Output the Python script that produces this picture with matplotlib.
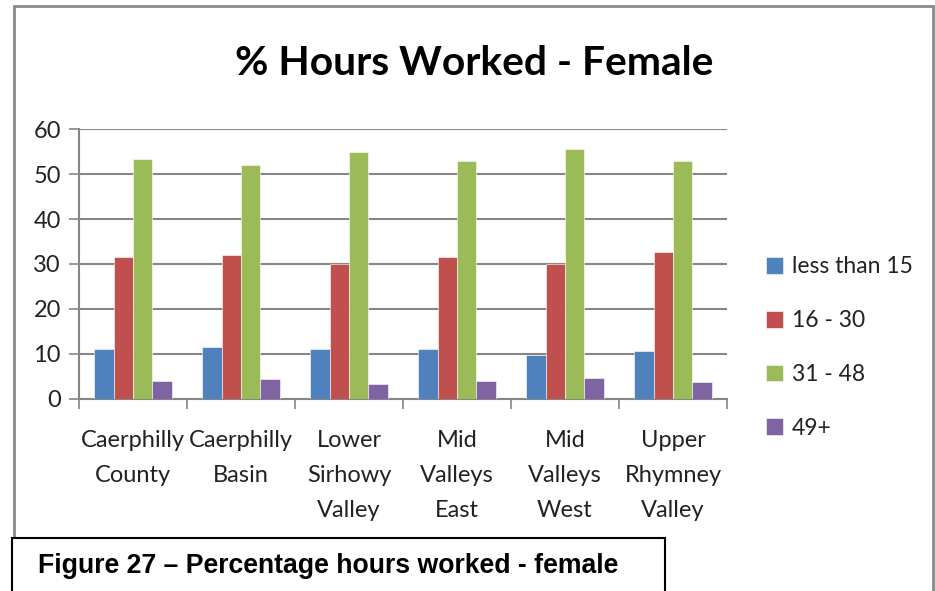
import numpy as np
import matplotlib.pyplot as plt
from matplotlib.patches import Rectangle

# --- data ---
areas = ["Caerphilly\nCounty", "Caerphilly\nBasin", "Lower\nSirhowy\nValley",
         "Mid\nValleys\nEast", "Mid\nValleys\nWest", "Upper\nRhymney\nValley"]
series_names = ["less than 15", "16 - 30", "31 - 48", "49+"]
less_than_15 = [11.0, 11.5, 11.2, 11.2, 9.8, 10.7]
h16_30 = [31.5, 32.1, 30.0, 31.5, 30.0, 32.7]
h31_48 = [53.3, 52.0, 54.8, 53.0, 55.5, 53.0]
h49_plus = [4.0, 4.4, 3.4, 4.0, 4.7, 3.8]
colors = ["#4F81BD", "#C0504D", "#9BBB59", "#8064A2"]

font = ["Lato", "DejaVu Sans"]
grey = "#868686"

fig = plt.figure(figsize=(9.35, 5.91), dpi=100)
ax = fig.add_axes([0.0845, 0.3249, 0.693, 0.4568])

x = np.arange(len(areas))
w = 0.179
all_series = [less_than_15, h16_30, h31_48, h49_plus]
for i, vals in enumerate(all_series):
    ax.bar(x + (i - 1.5) * w, vals, width=w, color=colors[i],
           edgecolor="white", linewidth=0.4, label=series_names[i], zorder=3)

ax.set_xlim(-0.5, len(areas) - 0.5)
ax.set_ylim(0, 60)
ax.set_yticks(range(0, 61, 10))
ax.yaxis.grid(True, color=grey, linewidth=1.5, zorder=0)
ax.set_axisbelow(True)

for s in ["top", "right"]:
    ax.spines[s].set_visible(False)
for s in ["left", "bottom"]:
    ax.spines[s].set_color(grey)
    ax.spines[s].set_linewidth(1.5)

ax.tick_params(axis="y", length=7, width=1.2, color=grey, pad=6, labelsize=17)
ax.set_xticks(np.arange(-0.5, len(areas), 1.0))
ax.set_xticklabels([])
ax.tick_params(axis="x", which="major", length=7, width=1.2, color=grey)
ax.set_xticks(x, minor=True)
ax.set_xticklabels(areas, minor=True)
ax.tick_params(axis="x", which="minor", length=0, pad=22, labelsize=17)
for lab in ax.get_xticklabels(minor=True) + ax.get_yticklabels():
    lab.set_family(font)
    lab.set_color("#222222")
for lab in ax.get_xticklabels(minor=True):
    lab.set_linespacing(1.85)
    lab.set_verticalalignment("top")

fig.text(0.507, 0.893, "% Hours Worked - Female", ha="center", va="center",
         fontsize=29.3, fontweight="bold", family=font)

leg = fig.legend(loc="center left", bbox_to_anchor=(0.797, 0.412), frameon=False,
                 prop={"family": font, "size": 16.5}, handlelength=0.75,
                 handleheight=0.75, handletextpad=0.4, labelspacing=1.43)
for t in leg.get_texts():
    t.set_color("#222222")

# outer chart border
fig.patches.append(Rectangle((14 / 935, -0.05), (933 - 14) / 935, 1 - 6 / 591 + 0.05,
                             transform=fig.transFigure, fill=False,
                             edgecolor="#8a8a8a", linewidth=2))
# caption box
fig.patches.append(Rectangle((12 / 935, -0.05), (665 - 12) / 935, 1 - 538 / 591 + 0.05,
                             transform=fig.transFigure, facecolor="white",
                             edgecolor="black", linewidth=1.5, zorder=5))
fig.text(38 / 935, 1 - 566 / 591, "Figure 27 \u2013 Percentage hours worked - female",
         ha="left", va="center", fontsize=19.2, fontweight="bold",
         family=["Liberation Sans", "DejaVu Sans"], zorder=6)

fig.savefig("out.png", dpi=100)
